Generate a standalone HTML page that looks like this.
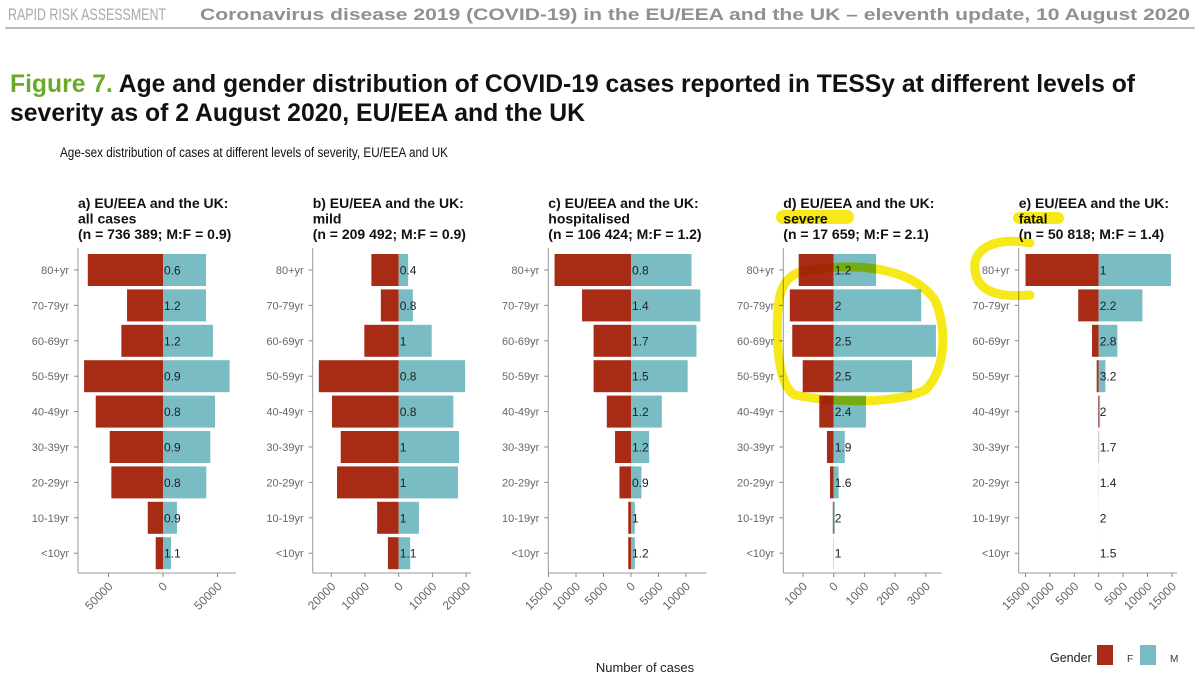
<!DOCTYPE html>
<html><head><meta charset="utf-8"><style>
html,body{margin:0;padding:0;background:#fff}
svg{display:block;font-family:"Liberation Sans",sans-serif}
</style></head><body>
<svg id="chart" width="1200" height="679" viewBox="0 0 1200 679">
<text x="8" y="20" font-size="17" fill="#a9a9a9" textLength="158" lengthAdjust="spacingAndGlyphs">RAPID RISK ASSESSMENT</text>
<text x="200" y="20" font-size="17" font-weight="bold" fill="#909090" textLength="990" lengthAdjust="spacingAndGlyphs">Coronavirus disease 2019 (COVID-19) in the EU/EEA and the UK – eleventh update, 10 August 2020</text>
<line x1="5" y1="28" x2="1195" y2="28" stroke="#bdbdbd" stroke-width="2"/>
<text x="10" y="92" font-size="25" font-weight="bold" fill="#111" textLength="1125" lengthAdjust="spacingAndGlyphs"><tspan fill="#6aaa2a">Figure 7.</tspan> Age and gender distribution of COVID-19 cases reported in TESSy at different levels of</text>
<text x="10" y="121" font-size="25" font-weight="bold" fill="#111" textLength="575" lengthAdjust="spacingAndGlyphs">severity as of 2 August 2020, EU/EEA and the UK</text>
<text x="60" y="157" font-size="13.5" fill="#111" textLength="388" lengthAdjust="spacingAndGlyphs">Age-sex distribution of cases at different levels of severity, EU/EEA and UK</text>
<g id="panels"></g>
<text x="645" y="672" font-size="13" fill="#222" text-anchor="middle">Number of cases</text>
<text x="1050" y="662" font-size="12.5" fill="#222">Gender</text>
<rect x="1097" y="645" width="16" height="20" fill="#a82b15"/>
<text x="1127" y="662" font-size="10" fill="#333">F</text>
<rect x="1140" y="645" width="16" height="20" fill="#79bcc4"/>
<text x="1170" y="662" font-size="10" fill="#333">M</text>
<g id="highlights" style="mix-blend-mode:multiply" fill="none" stroke="#f5e600" stroke-width="9" stroke-linecap="round" opacity="0.9">
<path d="M783,217 L847,217" stroke-width="14"/>
<path d="M1019,218 L1058,218" stroke-width="12"/>
<path d="M1030,243 C990,236 972,252 975,270 C977,290 995,298 1030,295"/>
<path d="M800,272 C850,262 910,265 935,300 C948,330 945,372 925,390 C895,405 830,402 795,395 C775,385 775,320 780,295 C784,280 792,275 800,272"/>
</g>
</svg>
<script>
const ageGroups = ["80+yr","70-79yr","60-69yr","50-59yr","40-49yr","30-39yr","20-29yr","10-19yr","<10yr"];
const allF = [69000,33000,38200,72400,61700,48900,47400,14000,6700];
const allM = [39500,39500,45800,61100,47700,43400,39700,12800,7300];
const allRatio = ["0.6","1.2","1.2","0.9","0.8","0.9","0.8","0.9","1.1"];
const mildF = [8100,5300,10200,23700,19800,17200,18300,6400,3200];
const mildM = [2800,4200,9800,19700,16200,17900,17600,6000,3400];
const mildRatio = ["0.4","0.8","1","0.8","0.8","1","1","1","1.1"];
const hospF = [13900,8900,6800,6800,4400,2900,2100,500,500];
const hospM = [11000,12600,11900,10300,5600,3300,1900,700,700];
const hospRatio = ["0.8","1.4","1.7","1.5","1.2","1.2","0.9","1","1.2"];
const sevF = [1140,1430,1350,1010,470,220,120,30,5];
const sevM = [1380,2850,3330,2550,1050,360,160,40,10];
const sevRatio = ["1.2","2","2.5","2.5","2.4","1.9","1.6","2","1"];
const fatF = [15000,4200,1370,410,150,50,15,5,2];
const fatM = [14800,8950,3830,1370,300,90,20,10,3];
const fatRatio = ["1","2.2","2.8","3.2","2","1.7","1.4","2","1.5"];
const ticksA = [-50000,0,50000];
const ticksB = [-20000,-10000,0,10000,20000];
const ticksC = [-15000,-10000,-5000,0,5000,10000];
const ticksD = [-1000,0,1000,2000,3000];
const ticksE = [-15000,-10000,-5000,0,5000,10000,15000];

const panels = [
 {id:"a",t:["a) EU/EEA and the UK:","all cases","(n = 736 389; M:F = 0.9)"],F:allF,M:allM,R:allRatio,ticks:ticksA,left:78,right:236,zero:163,unit:50000,upx:54.5},
 {id:"b",t:["b) EU/EEA and the UK:","mild","(n = 209 492; M:F = 0.9)"],F:mildF,M:mildM,R:mildRatio,ticks:ticksB,left:312.7,right:471,zero:398.7,unit:10000,upx:33.7},
 {id:"c",t:["c) EU/EEA and the UK:","hospitalised","(n = 106 424; M:F = 1.2)"],F:hospF,M:hospM,R:hospRatio,ticks:ticksC,left:548.3,right:706.7,zero:631,unit:5000,upx:27.5},
 {id:"d",t:["d) EU/EEA and the UK:","severe","(n = 17 659; M:F = 2.1)"],F:sevF,M:sevM,R:sevRatio,ticks:ticksD,left:783.3,right:941.7,zero:833.7,unit:1000,upx:30.7},
 {id:"e",t:["e) EU/EEA and the UK:","fatal","(n = 50 818; M:F = 1.4)"],F:fatF,M:fatM,R:fatRatio,ticks:ticksE,left:1018.7,right:1177,zero:1098.7,unit:5000,upx:24.4}
];
const NS="http://www.w3.org/2000/svg";
const root=document.getElementById("panels");
function mk(tag,attrs,parent){const e=document.createElementNS(NS,tag);for(const k in attrs)e.setAttribute(k,attrs[k]);parent.appendChild(e);return e;}
const rowY0=270, rowStep=35.4, barH=32, axisY=573, topY=248;
function yScale(i){return rowY0+i*rowStep;}
panels.forEach(p=>{
  const g=mk("g",{},root);
  
  
  const xs=v=>p.zero+v/p.unit*p.upx;
  p.t.forEach((line,k)=>{
    const tx=mk("text",{x:p.left,y:208+k*15.5,"font-size":"14","font-weight":"bold",fill:"#111"},g);
    tx.textContent=line;
    
    
  });
  ageGroups.forEach((a,i)=>{
    const y=yScale(i);
    const f=mk("rect",{x:xs(-p.F[i]),y:y-barH/2,width:Math.max(0,xs(0)-xs(-p.F[i])),height:barH,fill:"#a82b15"},g);
    
    
    const m=mk("rect",{x:xs(0),y:y-barH/2,width:Math.max(0,xs(p.M[i])-xs(0)),height:barH,fill:"#79bcc4"},g);
    
    
    const lb=mk("text",{x:xs(0)+1,y:y+4.5,"font-size":"12",fill:"#222"},g);
    lb.textContent=p.R[i];
    
    
    const yl=mk("text",{x:p.left-9,y:y+4,"font-size":"11",fill:"#666","text-anchor":"end"},g);
    yl.textContent=a;
    
    
    mk("line",{x1:p.left-4,x2:p.left,y1:y,y2:y,stroke:"#888"},g);
  });
  const ya=mk("line",{x1:p.left,x2:p.left,y1:topY,y2:axisY,stroke:"#999"},g);
  
  
  const xa=mk("line",{x1:p.left,x2:p.right,y1:axisY,y2:axisY,stroke:"#999"},g);
  
  
  p.ticks.forEach(t=>{
    const x=xs(t);
    mk("line",{x1:x,x2:x,y1:axisY,y2:axisY+4,stroke:"#888"},g);
    const tl=mk("text",{x:x+5,y:axisY+14,"font-size":"12",fill:"#666","text-anchor":"end",transform:`rotate(-45 ${x+5} ${axisY+14})`},g);
    tl.textContent=String(Math.abs(t));
    
    
  });
});
</script>
</body></html>
